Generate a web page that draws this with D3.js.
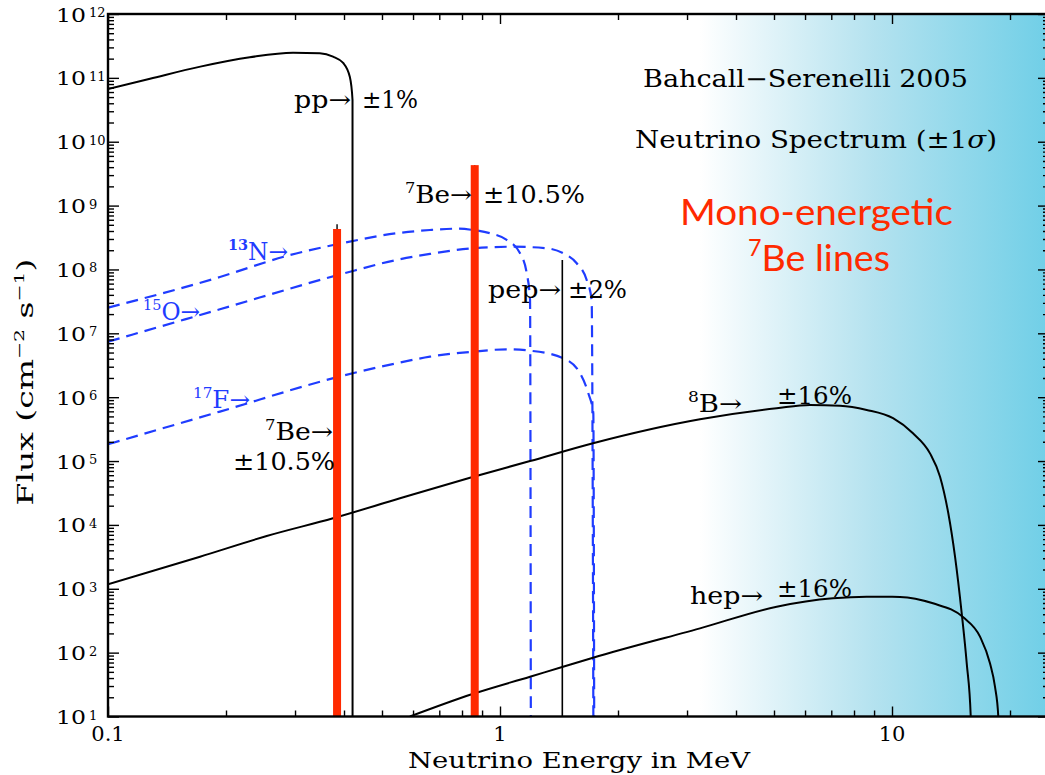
<!DOCTYPE html>
<html>
<head>
<meta charset="utf-8">
<script src="https://cdn.jsdelivr.net/npm/d3@7"></script>
<style>
  body { margin: 0; background: #fff; }
  svg { display: block; }
  text { font-family: "DejaVu Serif", "Liberation Serif", serif; fill: #000; }
</style>
</head>
<body>
<svg id="chart" width="1045" height="775"></svg>
<script>
// Solar neutrino spectrum, Bahcall–Serenelli 2005 (energies in MeV, fluxes in cm^-2 s^-1)

// pp chain continuum
const ppEnergy = [0.1, 0.128, 0.172, 0.230, 0.2965, 0.347, 0.375, 0.398, 0.414, 0.4205, 0.4206];
const ppFlux   = [6.7e10, 9.7e10, 1.5e11, 2.1e11, 2.48e11, 2.43e11, 2.15e11, 1.71e11, 1.03e11, 4.5e10, 1];

// CNO continua
const n13Energy = [0.1, 0.193, 0.2857, 0.3947, 0.5452, 0.6628, 0.7754, 0.8534, 0.9429, 1.040, 1.125, 1.170, 1.193, 1.199];
const n13Flux   = [2.52e7, 7.62e7, 1.63e8, 2.57e8, 3.69e8, 4.15e8, 4.35e8, 4.15e8, 3.69e8, 2.90e8, 1.79e8, 8.71e7, 3.33e7, 1];

const o15Energy = [0.1, 0.193, 0.3947, 0.5452, 0.6628, 0.8534, 1.081, 1.315, 1.450, 1.569, 1.664, 1.713, 1.732];
const o15Flux   = [7.40e6, 2.38e7, 8.49e7, 1.41e8, 1.75e8, 2.15e8, 2.27e8, 2.15e8, 1.79e8, 1.25e8, 6.84e7, 3.33e7, 1];

const f17Energy = [0.1, 0.193, 0.3947, 0.5452, 0.6628, 0.8534, 1.040, 1.193, 1.450, 1.600, 1.680, 1.730, 1.740];
const f17Flux   = [1.83e5, 5.95e5, 2.15e6, 3.40e6, 4.31e6, 5.16e6, 5.62e6, 5.35e6, 4.06e6, 2.37e6, 1.15e6, 5.60e5, 1];

// 8B and hep continua
const b8Energy = [0.1, 0.1717, 0.254, 0.375, 0.5557, 0.8469, 1.193, 1.727, 3.237, 5.080, 6.177, 7.368, 8.619, 10.06, 11.31, 12.50, 13.26, 13.92, 14.48, 15.06, 15.51, 15.88, 15.9];
const b8Flux   = [1.175e3, 3.18e3, 6.70e3, 1.27e4, 2.61e4, 5.57e4, 1.00e5, 1.90e5, 4.51e5, 6.70e5, 7.55e5, 7.36e5, 6.31e5, 4.68e5, 2.72e5, 1.32e5, 5.69e4, 1.52e4, 3.18e3, 4.13e2, 68, 10, 1];

const hepEnergy = [0.589, 0.847, 1.193, 1.448, 1.727, 3.237, 5.080, 7.071, 8.619, 10.48, 12.72, 15.20, 16.77, 17.78, 18.31, 18.67, 18.7];
const hepFlux   = [10, 22.3, 42.0, 60.2, 83.3, 240, 524, 709, 751, 746, 592, 357, 178, 68, 29.3, 10, 1];

// Mono-energetic lines
const be7LineEnergy = [0.384, 0.862];
const be7LineFlux   = [4.3e8, 4.3e9];
const be7StemFlux   = [5.1e8, 4.3e9];
const pepEnergy = [1.442];
const pepFlux   = [1.4e8];

// Axis ticks
const xMajorTicks = [0.1, 1, 10];
const xTickLabels = ["0.1", "1", "10"];
const xMinorTicks = [0.2, 0.3, 0.4, 0.5, 0.6, 0.7, 0.8, 0.9, 2, 3, 4, 5, 6, 7, 8, 9, 20];
const yExponents = [1, 2, 3, 4, 5, 6, 7, 8, 9, 10, 11, 12];

const padL = 108, padR = 1048, padT = 14, padB = 716.5;
const x = d3.scaleLog().domain([0.1, 25]).range([padL, padR]);
const y = d3.scaleLog().domain([10, 1e12]).range([padB, padT]);

const yMajorTicks = yExponents.map(e => Math.pow(10, e));
const yMinorTicks = [];
yExponents.slice(0, -1).forEach(e => { for (let k = 2; k <= 9; k++) yMinorTicks.push(k * Math.pow(10, e)); });

const svg = d3.select("#chart");
const defs = svg.append("defs");

const grad = defs.append("linearGradient").attr("id", "highE")
  .attr("gradientUnits", "userSpaceOnUse")
  .attr("x1", 700).attr("x2", padR).attr("y1", 0).attr("y2", 0);
grad.append("stop").attr("offset", 0).attr("stop-color", "#ffffff");
grad.append("stop").attr("offset", 0.5).attr("stop-color", "#b4e2ef");
grad.append("stop").attr("offset", 1).attr("stop-color", "#70cfe7");

defs.append("clipPath").attr("id", "plotArea").append("rect")
  .attr("x", padL).attr("y", padT).attr("width", padR - padL).attr("height", padB - padT);

// shaded high-energy band
svg.append("rect").attr("x", 700).attr("y", padT)
  .attr("width", padR - 700).attr("height", padB - padT)
  .attr("fill", "url(#highE)");

const plot = svg.append("g").attr("clip-path", "url(#plotArea)");
const line = d3.line().x(d => x(d[0])).y(d => y(d[1])).curve(d3.curveMonotoneX);

// CNO spectra (dashed blue)
[[n13Energy, n13Flux], [o15Energy, o15Flux], [f17Energy, f17Flux]].forEach(([e, f]) => {
  plot.append("path").datum(d3.zip(e, f)).attr("d", line)
    .attr("fill", "none").attr("stroke", "#1f3cff").attr("stroke-width", 2.2)
    .attr("stroke-dasharray", "12,7");
});

// pp, 8B, hep (solid black)
[[ppEnergy, ppFlux], [b8Energy, b8Flux], [hepEnergy, hepFlux]].forEach(([e, f]) => {
  plot.append("path").datum(d3.zip(e, f)).attr("d", line)
    .attr("fill", "none").attr("stroke", "#000").attr("stroke-width", 2);
});

// pep line
plot.selectAll(".pep").data(d3.zip(pepEnergy, pepFlux)).join("line")
  .attr("x1", d => x(d[0])).attr("x2", d => x(d[0]))
  .attr("y1", d => y(d[1])).attr("y2", padB)
  .attr("stroke", "#000").attr("stroke-width", 1.6);

// 7Be lines: thin stems and highlighted bars
plot.selectAll(".stem").data(d3.zip(be7LineEnergy, be7StemFlux)).join("line")
  .attr("x1", d => x(d[0])).attr("x2", d => x(d[0]))
  .attr("y1", d => y(d[1])).attr("y2", padB)
  .attr("stroke", "#000").attr("stroke-width", 1.4);
plot.selectAll(".bar").data(d3.zip(be7LineEnergy, be7LineFlux)).join("rect")
  .attr("x", d => x(d[0]) - 4).attr("width", 8)
  .attr("y", d => y(d[1])).attr("height", d => padB - y(d[1]))
  .attr("fill", "#ff2a00");

// ticks on all four sides, pointing inward
function tickSet(axis, values, size, transform) {
  svg.append("g").attr("transform", transform)
    .call(axis.tickValues(values).tickSize(size).tickFormat(""))
    .call(g => g.select(".domain").remove())
    .selectAll("line").attr("stroke", "#000").attr("stroke-width", 1.4);
}
tickSet(d3.axisBottom(x), xMajorTicks, -10, `translate(0,${padB})`);
tickSet(d3.axisBottom(x), xMinorTicks, -6, `translate(0,${padB})`);
tickSet(d3.axisTop(x), xMajorTicks, -10, `translate(0,${padT})`);
tickSet(d3.axisTop(x), xMinorTicks, -6, `translate(0,${padT})`);
tickSet(d3.axisLeft(y), yMajorTicks, -11, `translate(${padL},0)`);
tickSet(d3.axisLeft(y), yMinorTicks, -6, `translate(${padL},0)`);
tickSet(d3.axisRight(y), yMajorTicks, -10, `translate(${padR},0)`);
tickSet(d3.axisRight(y), yMinorTicks, -5, `translate(${padR},0)`);

// frame
svg.append("rect").attr("x", padL).attr("y", padT)
  .attr("width", padR - padL).attr("height", padB - padT)
  .attr("fill", "none").attr("stroke", "#000").attr("stroke-width", 2.4);

// tick labels
svg.selectAll(".xl").data(d3.zip(xMajorTicks, xTickLabels)).join("text")
  .attr("x", d => x(d[0])).attr("y", 741).attr("text-anchor", "middle")
  .attr("font-size", 21).text(d => d[1]);

const yl = svg.selectAll(".yl").data(yMajorTicks).join("g");
yl.append("text").attr("x", 86).attr("y", d => y(d) + 7.5).attr("text-anchor", "end")
  .attr("font-size", 18).attr("textLength", 30).attr("lengthAdjust", "spacingAndGlyphs").text("10");
yl.append("text").attr("x", 89).attr("y", d => y(d) + 3).attr("text-anchor", "start")
  .attr("font-size", 13).text(d => Math.round(Math.log10(d)));

// text helper: parts are [string, kind, extra styles]
function note(px, py, parts, opt) {
  const size = opt.size || 24;
  const t = svg.append("text").attr("x", px).attr("y", py)
    .attr("font-size", size)
    .attr("text-anchor", opt.anchor || "start");
  if (opt.family) t.style("font-family", opt.family);
  if (opt.fill) t.style("fill", opt.fill);
  if (opt.len) t.attr("textLength", opt.len).attr("lengthAdjust", "spacingAndGlyphs");
  if (opt.transform) t.attr("transform", opt.transform);
  parts.forEach(([s, kind, extra]) => {
    const ts = t.append("tspan").text(s);
    if (kind === "sup") {
      ts.attr("font-size", size * 0.62).attr("dy", -size * 0.42);
    } else if (kind === "after") {
      ts.attr("dy", size * 0.42);
    }
    if (extra) Object.entries(extra).forEach(([k, v]) => ts.style(k, v));
  });
  return t;
}

note(351, 108, [["pp→"]], { anchor: "end", len: 57 });
note(362, 108, [["±1%"]], { len: 56 });
note(405, 203, [["7", "sup"], ["Be→", "after"]], { len: 67 });
note(483, 203, [["±10.5%"]], { len: 102 });
note(488, 298, [["pep→"]], { len: 73 });
note(568, 298, [["±2%"]], { len: 59 });
note(265, 440, [["7", "sup"], ["Be→", "after"]], { len: 68 });
note(233, 470, [["±10.5%"]], { len: 102 });
note(688, 412, [["8", "sup"], ["B→", "after"]], { len: 54 });
note(777, 404, [["±16%"]], { len: 75 });
note(690, 604, [["hep→"]], { len: 73 });
note(777, 597, [["±16%"]], { len: 75 });

note(228, 260, [["13", "sup", { "font-weight": "bold" }], ["N→", "after"]], { len: 60, fill: "#1f3cff" });
note(143, 320, [["15", "sup"], ["O→", "after"]], { len: 57, fill: "#1f3cff" });
note(193, 408, [["17", "sup"], ["F→", "after"]], { len: 57, fill: "#1f3cff" });

note(643, 87, [["Bahcall−Serenelli 2005"]], { len: 325 });
note(635, 148, [["Neutrino Spectrum (±1"], ["σ", "", { "font-style": "italic" }], [")"]], { len: 362 });

note(680, 225, [["Mono-energetic"]], { size: 36, family: "Lato, 'Open Sans', sans-serif", fill: "#ff2a00", len: 273 });
note(748, 271, [["7", "sup"], ["Be lines", "after"]], { size: 36, family: "Lato, 'Open Sans', sans-serif", fill: "#ff2a00", len: 142 });

// axis titles
note(408, 768, [["Neutrino Energy in MeV"]], { size: 22, len: 342 });
note(0, 0, [["Flux (cm"], ["−2", "sup"], [" s", "after"], ["−1", "sup"], [")", "after"]],
  { size: 22, anchor: "middle", len: 247, transform: "translate(33,382) rotate(-90)" });
</script>
</body>
</html>
